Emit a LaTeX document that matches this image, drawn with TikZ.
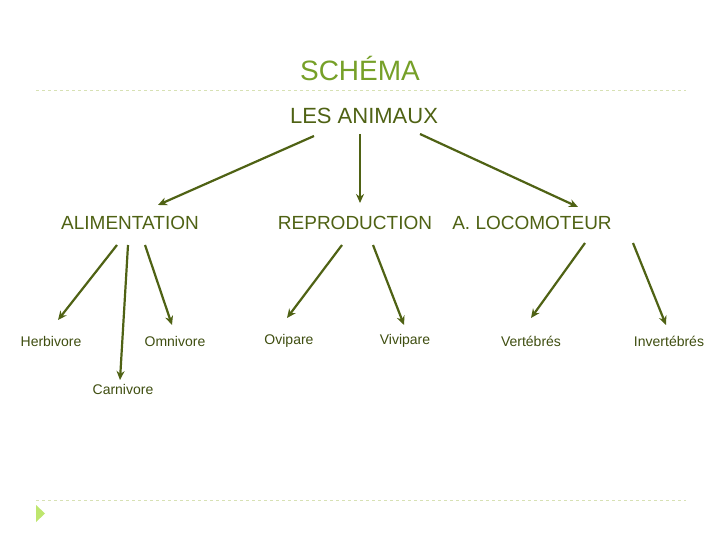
\documentclass[tikz,border=0pt]{standalone}
\usepackage{fontspec}
\setmainfont{Liberation Sans}
\usetikzlibrary{arrows.meta}
\definecolor{ttl}{RGB}{118,160,40}
\definecolor{olive}{RGB}{79,98,20}
\definecolor{dashcol}{RGB}{215,225,180}
\definecolor{tri}{RGB}{190,230,110}
\begin{document}
\begin{tikzpicture}[x=1pt,y=-1pt,
  lvl/.style={text=olive,font=\fontsize{19}{22}\selectfont,inner sep=0},
  leaf/.style={text=olive!80!black,font=\fontsize{14}{16}\selectfont,inner sep=0},
  arr/.style={draw=olive,line width=2.2pt,-{Stealth[length=9pt,width=8pt]}}]
\useasboundingbox[fill=white] (0,0) rectangle (720,540);
\node[text=ttl,font=\fontsize{28}{32}\selectfont,inner sep=0] (t) at (360,68) {SCHÉMA};
\draw[dashcol,dashed,line width=0.8pt] (36,90) -- (686,90);
\draw[dashcol,dashed,line width=0.8pt] (36,500) -- (686,500);
\fill[tri] (36,505) -- (45,513.5) -- (36,522) -- cycle;
\node[lvl,font=\fontsize{22}{26}\selectfont] (root) at (364,116) {LES ANIMAUX};
\node[lvl] (ali) at (130,223) {ALIMENTATION};
\node[lvl] (rep) at (355,223) {REPRODUCTION};
\node[lvl] (loc) at (532,223) {A. LOCOMOTEUR};
\node[leaf] (h) at (51,341) {Herbivore};
\node[leaf] (o) at (175,341) {Omnivore};
\node[leaf] (c) at (123,389) {Carnivore};
\node[leaf] (ov) at (289,341) {Ovipare};
\node[leaf] (vi) at (405,341) {Vivipare};
\node[leaf] (ve) at (531,341) {Vertébrés};
\node[leaf] (in) at (669,341) {Invertébrés};
\draw[arr] (314,136) -- (158,205);
\draw[arr] (360,134) -- (360,203);
\draw[arr] (420,134) -- (578,207);
\draw[arr] (117,245) -- (58,320);
\draw[arr] (128,245) -- (120,380);
\draw[arr] (145,245) -- (172,325);
\draw[arr] (342,245) -- (287,318);
\draw[arr] (373,245) -- (404,325);
\draw[arr] (585,243) -- (531,318);
\draw[arr] (633,243) -- (666,325);
\end{tikzpicture}
\end{document}
